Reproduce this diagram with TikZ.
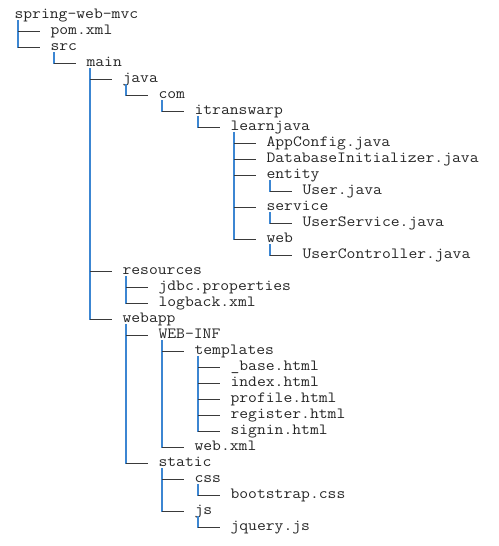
\documentclass[tikz,border=0pt]{standalone}
\usepackage{fontspec}
\setmonofont[FakeStretch=1.1]{Latin Modern Mono}
\usetikzlibrary{calc}
\definecolor{treetext}{HTML}{262626}
\definecolor{trunk}{HTML}{3C86D2}
\definecolor{twig}{HTML}{3A3A3A}
\tikzset{
  entry/.style={anchor=base west, inner sep=0pt, outer sep=0pt,
    font=\ttfamily\fontsize{11.7pt}{13pt}\selectfont, text=treetext},
  trunkline/.style={draw=trunk, line width=0.9pt, line cap=rect},
  twigline/.style={draw=twig, line width=0.75pt},
}
% #1 name, #2 depth, #3 row, #4 label
\newcommand\treeentry[4]{\node[entry] (#1) at ({14.5+36*#2},{18.5+16*#3}) {#4};}
% vertical line below a folder, down to its last child
\newcommand\treetrunk[2]{\draw[trunkline] ($(#1.base west)+(3.5,2.5)$) -- ($(#2.base west)+(-32.5,-3.5)$);}
% horizontal branch into an entry
\newcommand\treetwig[1]{\draw[twigline] ($(#1.base west)+(-32.5,-3.5)$) -- ($(#1.base west)+(-10.5,-3.5)$);}
\begin{document}
\begin{tikzpicture}[x=0.75pt, y=-0.75pt]
\useasboundingbox (0,0) rectangle (499,546);
\treeentry{root}{0}{0}{spring-web-mvc}
\treeentry{pom}{1}{1}{pom.xml}
\treeentry{src}{1}{2}{src}
\treeentry{main}{2}{3}{main}
\treeentry{java}{3}{4}{java}
\treeentry{com}{4}{5}{com}
\treeentry{itw}{5}{6}{itranswarp}
\treeentry{learn}{6}{7}{learnjava}
\treeentry{appcfg}{7}{8}{AppConfig.java}
\treeentry{dbinit}{7}{9}{DatabaseInitializer.java}
\treeentry{entity}{7}{10}{entity}
\treeentry{user}{8}{11}{User.java}
\treeentry{service}{7}{12}{service}
\treeentry{usersvc}{8}{13}{UserService.java}
\treeentry{web}{7}{14}{web}
\treeentry{userctl}{8}{15}{UserController.java}
\treeentry{res}{3}{16}{resources}
\treeentry{jdbc}{4}{17}{jdbc.properties}
\treeentry{logback}{4}{18}{logback.xml}
\treeentry{webapp}{3}{19}{webapp}
\treeentry{webinf}{4}{20}{WEB-INF}
\treeentry{tpl}{5}{21}{templates}
\treeentry{base}{6}{22}{\_base.html}
\treeentry{index}{6}{23}{index.html}
\treeentry{profile}{6}{24}{profile.html}
\treeentry{register}{6}{25}{register.html}
\treeentry{signin}{6}{26}{signin.html}
\treeentry{webxml}{5}{27}{web.xml}
\treeentry{static}{4}{28}{static}
\treeentry{css}{5}{29}{css}
\treeentry{bootstrap}{6}{30}{bootstrap.css}
\treeentry{js}{5}{31}{js}
\treeentry{jquery}{6}{32}{jquery.js}

% trunks
\treetrunk{root}{src}
\treetrunk{src}{main}
\treetrunk{main}{webapp}
\treetrunk{java}{com}
\treetrunk{com}{itw}
\treetrunk{itw}{learn}
\treetrunk{learn}{web}
\treetrunk{entity}{user}
\treetrunk{service}{usersvc}
\treetrunk{web}{userctl}
\treetrunk{res}{logback}
\treetrunk{webapp}{static}
\treetrunk{webinf}{webxml}
\treetrunk{tpl}{signin}
\treetrunk{static}{js}
\treetrunk{css}{bootstrap}
\treetrunk{js}{jquery}

% branches
\foreach \n in {pom,src,main,java,com,itw,learn,appcfg,dbinit,entity,user,service,usersvc,web,userctl,res,jdbc,logback,webapp,webinf,tpl,base,index,profile,register,signin,webxml,static,css,bootstrap,js,jquery}
  {\treetwig{\n}}
\end{tikzpicture}
\end{document}
